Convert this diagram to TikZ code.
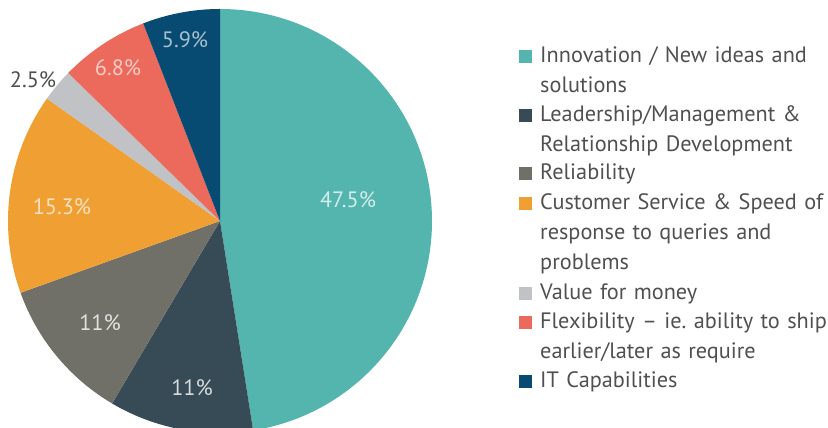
\documentclass[tikz,border=0pt]{standalone}
\usepackage{fontspec}
\setmainfont{PT Sans}[WordSpace=0.75]
\frenchspacing
\definecolor{innov}{HTML}{53B5AE}
\definecolor{leader}{HTML}{374B57}
\definecolor{reliab}{HTML}{707068}
\definecolor{custom}{HTML}{F0A032}
\definecolor{value}{HTML}{C0C2C5}
\definecolor{flexi}{HTML}{EC6A5B}
\definecolor{itcap}{HTML}{074A72}
\definecolor{txtgray}{HTML}{505050}
\begin{document}
\begin{tikzpicture}[x=0.03cm, y=0.03cm,
    font=\fontsize{19}{25.35}\selectfont,
    pct/.style={anchor=center, inner sep=0pt},
    legbox/.style={minimum size=0.39cm, inner sep=0pt},
    legtext/.style={anchor=base west, inner sep=0pt, text width=9cm, align=left, text=txtgray}]
            \useasboundingbox (0,0) rectangle (828,428);
            \clip (0,0) rectangle (828,428);
            \coordinate (center) at (220,207);

            % slices, clockwise from the top
            \fill[innov] (center) -- ++(90:212) arc (90:-81:212) -- cycle;
            \fill[leader] (center) -- ++(-81:212) arc (-81:-120.6:212) -- cycle;
            \fill[reliab] (center) -- ++(-120.6:212) arc (-120.6:-160.2:212) -- cycle;
            \fill[custom] (center) -- ++(-160.2:212) arc (-160.2:-215.28:212) -- cycle;
            \fill[value] (center) -- ++(-215.28:212) arc (-215.28:-224.28:212) -- cycle;
            \fill[flexi] (center) -- ++(-224.28:212) arc (-224.28:-248.76:212) -- cycle;
            \fill[itcap] (center) -- ++(-248.76:212) arc (-248.76:-270:212) -- cycle;

            \node[pct, text=innov!25!white] (p1) at (348,228) {47.5\%};
            \node[pct, text=leader!20!white] (p2) at (192,40) {11\%};
            \node[pct, text=reliab!20!white] (p3) at (100,105) {11\%};
            \node[pct, text=custom!30!white] (p4) at (62,221) {15.3\%};
            \node[pct, text=txtgray] (p5) at (33,348) {2.5\%};
            \node[pct, text=flexi!35!white] (p6) at (118,360) {6.8\%};
            \node[pct, text=itcap!35!white] (p7) at (185,388) {5.9\%};

            % legend
            \node[legbox, fill=innov] (sq1) at (525,371.5) {};
            \node[legtext] (leg1) at (540,365) {Innovation / New ideas and\\solutions};
            \node[legbox, fill=leader] (sq2) at (525,312.5) {};
            \node[legtext] (leg2) at (540,306) {Leadership/Management \&\\Relationship Development};
            \node[legbox, fill=reliab] (sq3) at (525,254.5) {};
            \node[legtext] (leg3) at (540,248) {Reliability};
            \node[legbox, fill=custom] (sq4) at (525,224.5) {};
            \node[legtext] (leg4) at (540,218) {Customer Service \& Speed of\\response to queries and\\problems};
            \node[legbox, fill=value] (sq5) at (525,134.5) {};
            \node[legtext] (leg5) at (540,128) {Value for money};
            \node[legbox, fill=flexi] (sq6) at (525,105.5) {};
            \node[legtext] (leg6) at (540,99) {Flexibility -- ie. ability to ship\\earlier/later as require};
            \node[legbox, fill=itcap] (sq7) at (525,46.5) {};
            \node[legtext] (leg7) at (540,40) {IT Capabilities};
\end{tikzpicture}
\end{document}
